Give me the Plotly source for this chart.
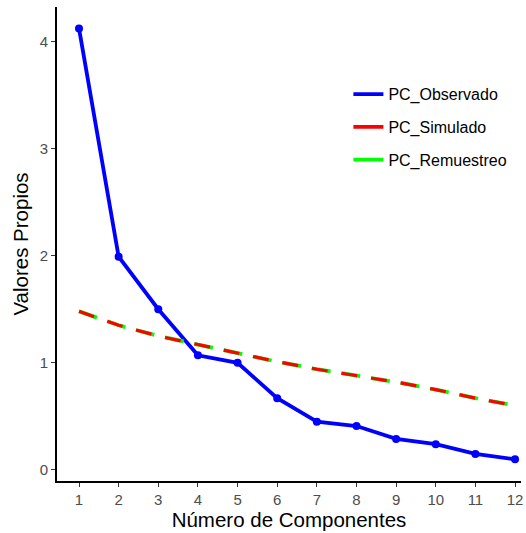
import plotly.graph_objects as go

componentes = list(range(1, 13))
pc_observado = [4.12, 1.99, 1.50, 1.07, 1.00, 0.67, 0.45, 0.41, 0.29, 0.24, 0.15, 0.10]
pc_simulado = [1.48, 1.35, 1.25, 1.17, 1.09, 1.01, 0.94, 0.88, 0.82, 0.75, 0.67, 0.60]
pc_remuestreo = [1.48, 1.35, 1.25, 1.17, 1.09, 1.01, 0.94, 0.88, 0.82, 0.75, 0.67, 0.60]
x_ticks = list(range(1, 13))
y_ticks = [0, 1, 2, 3, 4]

BLUE = "#0000FF"
RED = "#FF0000"
GREEN = "#00FF00"
FONT = "Liberation Sans, Arial, sans-serif"

fig = go.Figure()

fig.add_trace(go.Scatter(
    x=componentes, y=pc_observado, mode="lines+markers",
    line=dict(color=BLUE, width=3.8), marker=dict(color=BLUE, size=8),
    showlegend=False, cliponaxis=False))
fig.add_trace(go.Scatter(
    x=componentes, y=pc_remuestreo, mode="lines",
    line=dict(color=GREEN, width=3.8, dash="19px,11px"),
    showlegend=False))
fig.add_trace(go.Scatter(
    x=componentes, y=pc_simulado, mode="lines",
    line=dict(color=RED, width=3.2, dash="16px,14px"),
    showlegend=False))

# legend entries (solid keys, as in the reference)
for name, col in [("PC_Observado", BLUE), ("PC_Simulado", RED), ("PC_Remuestreo", GREEN)]:
    fig.add_trace(go.Scatter(
        x=[None], y=[None], mode="lines", name=name,
        line=dict(color=col, width=3.8), legendgroup=name))

axis_common = dict(
    showgrid=False, zeroline=False, showline=True, linecolor="black", linewidth=1.6,
    ticks="outside", ticklen=4, tickwidth=1.2, tickcolor="#333333",
    tickfont=dict(family=FONT, size=15, color="#4D4D4D"),
    automargin=False,
)

fig.update_layout(
    width=526, height=533,
    margin=dict(l=57, r=5, t=7, b=52),
    plot_bgcolor="white", paper_bgcolor="white",
    font=dict(family=FONT, color="black"),
    xaxis=dict(
        range=[0.445, 12.15], tickmode="array", tickvals=x_ticks,
        ticktext=[str(v) for v in x_ticks],
        title=dict(text="Número de Componentes", font=dict(family=FONT, size=20.5), standoff=3),
        **axis_common),
    yaxis=dict(
        range=[-0.103, 4.32], tickmode="array", tickvals=y_ticks,
        ticktext=[str(v) for v in y_ticks],
        title=dict(text="Valores Propios", font=dict(family=FONT, size=20.5), standoff=6),
        **axis_common),
    legend=dict(
        x=0.628, y=0.852, xanchor="left", yanchor="top",
        font=dict(family=FONT, size=16, color="black"),
        bgcolor="rgba(255,255,255,0)", traceorder="grouped", tracegroupgap=9,
    ),
)

fig.write_html("out.html", config={"displayModeBar": False},
               post_script="document.body.style.margin='0';")
